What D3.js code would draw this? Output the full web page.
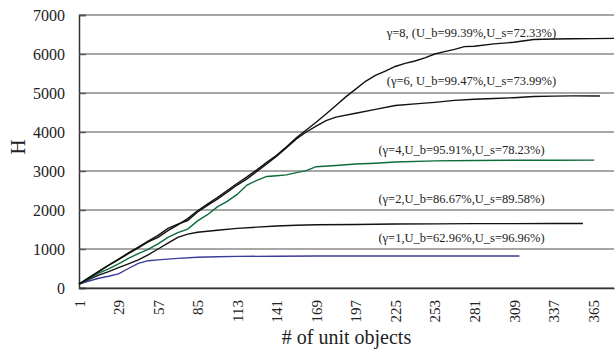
<!DOCTYPE html>
<html>
<head>
<meta charset="utf-8">
<script src="https://cdn.jsdelivr.net/npm/d3@7"></script>
<style>
  body { margin: 0; background: #fff; }
  svg text { font-family: "Liberation Serif", "Times New Roman", Times, "DejaVu Serif", serif; fill: #222; }
</style>
</head>
<body>
<div id="chart"></div>
<script>
// chart size and plot box
var w = 615;
var h = 350;
var margin = { top: 15, right: 1, bottom: 62, left: 79 };
var serif = "'Liberation Serif', 'Times New Roman', Times, serif";

// tick labels
var xTicks = [1, 29, 57, 85, 113, 141, 169, 197, 225, 253, 281, 309, 337, 365];
var yTicks = [0, 1000, 2000, 3000, 4000, 5000, 6000, 7000];

// series values: [unit objects, H]
var gamma1 = [[1, 100], [8, 180], [15, 250], [22, 300], [29, 360], [36, 500], [43, 630], [50, 700],
    [57, 720], [71, 760], [85, 790], [99, 800], [113, 810], [141, 815], [169, 820], [197, 820],
    [225, 820], [253, 820], [281, 820], [313, 820]];
var gamma2 = [[1, 100], [8, 220], [15, 330], [22, 420], [29, 520], [36, 620], [43, 720], [50, 850],
    [57, 1000], [64, 1150], [71, 1300], [78, 1380], [85, 1430], [99, 1480], [113, 1530],
    [127, 1560], [141, 1590], [155, 1610], [169, 1620], [197, 1630], [225, 1640], [253, 1645],
    [281, 1650], [309, 1650], [337, 1655], [358, 1655]];
var gamma4 = [[1, 100], [8, 240], [15, 380], [22, 490], [29, 620], [36, 760], [43, 880], [50, 990],
    [57, 1130], [64, 1300], [71, 1420], [78, 1510], [85, 1720], [92, 1880], [99, 2080],
    [106, 2220], [113, 2400], [120, 2640], [127, 2760], [134, 2860], [141, 2880], [148, 2900],
    [155, 2960], [162, 3010], [169, 3110], [183, 3140], [197, 3180], [211, 3200], [225, 3230],
    [253, 3260], [281, 3270], [309, 3275], [337, 3275], [366, 3280]];
var gamma6 = [[1, 100], [8, 270], [15, 430], [22, 590], [29, 740], [36, 900], [43, 1050], [50, 1200],
    [57, 1350], [64, 1530], [71, 1640], [78, 1730], [85, 1950], [92, 2120], [99, 2280],
    [106, 2460], [113, 2640], [120, 2800], [127, 2990], [134, 3180], [141, 3380], [148, 3600],
    [155, 3820], [162, 4000], [169, 4150], [176, 4290], [183, 4380], [197, 4480], [211, 4580],
    [225, 4680], [239, 4720], [253, 4760], [267, 4810], [281, 4840], [295, 4860], [309, 4880],
    [323, 4910], [337, 4920], [351, 4925], [370, 4925]];
var gamma8 = [[1, 100], [8, 260], [15, 420], [22, 580], [29, 730], [36, 880], [43, 1030], [50, 1180],
    [57, 1300], [64, 1470], [71, 1620], [78, 1780], [85, 1980], [92, 2150], [99, 2320],
    [106, 2500], [113, 2680], [120, 2850], [127, 3030], [134, 3220], [141, 3400], [148, 3620],
    [155, 3850], [162, 4050], [169, 4250], [176, 4460], [183, 4680], [190, 4900], [197, 5100],
    [204, 5300], [211, 5450], [218, 5560], [225, 5680], [232, 5760], [239, 5820], [246, 5900],
    [253, 6000], [260, 6060], [267, 6120], [274, 6190], [281, 6200], [295, 6260], [309, 6300],
    [323, 6370], [337, 6385], [351, 6390], [365, 6395], [380, 6400]];

var series = [gamma1, gamma2, gamma4, gamma6, gamma8];
var labels = ["(\u03b3=1,U_b=62.96%,U_s=96.96%)",
    "(\u03b3=2,U_b=86.67%,U_s=89.58%)",
    "(\u03b3=4,U_b=95.91%,U_s=78.23%)",
    "(\u03b3=6, U_b=99.47%,U_s=73.99%)",
    "\u03b3=8, (U_b=99.39%,U_s=72.33%)"];
var colors = ["#3b3b9c", "#111111", "#0d6b3a", "#111111", "#111111"];
// where each label sits, in data units [x, H]
var labelAt = [[272, 1180], [272, 2180], [272, 3430], [279, 5200], [279, 6440]];

var svg = d3.select("#chart")
    .append("svg")
    .attr("width", w)
    .attr("height", h);

var xScale = d3.scaleLinear()
    .domain([1, 380])
    .range([margin.left, w - margin.right]);

var yScale = d3.scaleLinear()
    .domain([0, 7000])
    .range([h - margin.bottom, margin.top]);

// gridlines
svg.append("g")
    .selectAll("line")
    .data(yTicks)
    .enter()
    .append("line")
    .attr("x1", margin.left)
    .attr("x2", w - margin.right)
    .attr("y1", function (d) { return yScale(d); })
    .attr("y2", function (d) { return yScale(d); })
    .attr("stroke", "#8a8a8a")
    .attr("stroke-width", 1.4);

// Y axis
var yAxis = d3.axisLeft(yScale)
    .tickValues(yTicks)
    .tickSize(-7)
    .tickPadding(14)
    .tickFormat(d3.format("d"));

svg.append("g")
    .attr("class", "y axis")
    .attr("transform", "translate(" + margin.left + ",0)")
    .call(yAxis);

// X axis, labels rotated
var xAxis = d3.axisBottom(xScale)
    .tickValues(xTicks)
    .tickSize(0)
    .tickFormat(d3.format("d"));

var gx = svg.append("g")
    .attr("class", "x axis")
    .attr("transform", "translate(0," + yScale(0) + ")")
    .call(xAxis);

gx.selectAll("text")
    .attr("transform", "rotate(-90)")
    .attr("x", -12)
    .attr("y", 0)
    .attr("dy", "0.35em")
    .style("text-anchor", "end");

svg.selectAll(".axis")
    .attr("font-family", serif)
    .attr("font-size", 15);
svg.select(".y.axis")
    .attr("font-size", 16);

svg.selectAll(".axis text")
    .style("fill", "#222");

svg.selectAll(".axis .domain")
    .attr("stroke", "#333")
    .attr("stroke-width", 1.5);
svg.selectAll(".axis .tick line")
    .attr("stroke", "#555")
    .attr("stroke-width", 1.4);

// curves
var line = d3.line()
    .x(function (d) { return xScale(d[0]); })
    .y(function (d) { return yScale(d[1]); });

svg.append("g")
    .selectAll("path")
    .data(series)
    .enter()
    .append("path")
    .attr("d", line)
    .attr("fill", "none")
    .attr("stroke", function (d, i) { return colors[i]; })
    .attr("stroke-width", 1.4);

// series labels
svg.append("g")
    .selectAll("text")
    .data(labels)
    .enter()
    .append("text")
    .attr("x", function (d, i) { return xScale(labelAt[i][0]); })
    .attr("y", function (d, i) { return yScale(labelAt[i][1]); })
    .attr("text-anchor", "middle")
    .attr("font-family", serif)
    .attr("font-size", "12.5px")
    .text(function (d) { return d; });

// axis titles
svg.append("text")
    .attr("x", (margin.left + w - margin.right) / 2)
    .attr("y", 344)
    .attr("text-anchor", "middle")
    .attr("font-family", serif)
    .attr("font-size", "20px")
    .text("# of unit objects");

svg.append("text")
    .attr("transform", "translate(25,147) rotate(-90)")
    .attr("text-anchor", "middle")
    .attr("font-family", serif)
    .attr("font-size", "21px")
    .text("H");
</script>
</body>
</html>
